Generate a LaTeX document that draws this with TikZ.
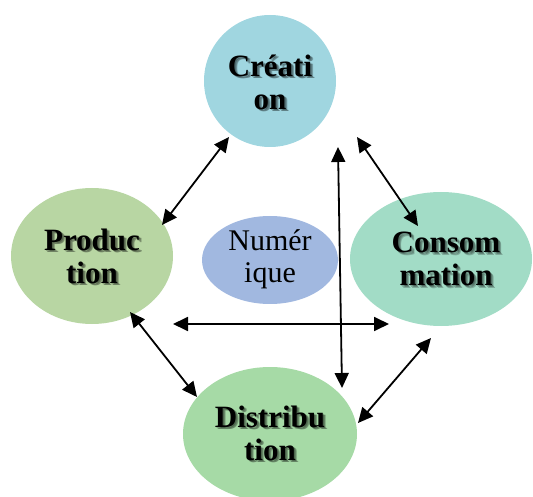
\documentclass[tikz,border=0pt]{standalone}
\usepackage{fontspec}
\setmainfont{Liberation Serif}
\usetikzlibrary{shapes.geometric,arrows.meta,calc}

\definecolor{creaC}{HTML}{A0D6E0}
\definecolor{prodC}{HTML}{B8D6A3}
\definecolor{consC}{HTML}{A2DCC6}
\definecolor{distC}{HTML}{A6DAA6}
\definecolor{numC}{HTML}{A1B8E0}

\tikzset{
  bubble/.style={ellipse, draw=none, inner sep=0pt, outer sep=0pt},
  lbltext/.style={align=center, inner sep=0pt,
    font=\fontsize{31}{33}\selectfont\bfseries},
  lblshadow/.style={lbltext, text=black, text opacity=0.22},
  plaintext/.style={align=center, inner sep=0pt,
    font=\fontsize{30}{32}\selectfont},
  link/.style={line width=1.8pt,
    {Triangle[length=15pt,width=14pt]}-{Triangle[length=15pt,width=14pt]}},
}

% bold caption with a soft drop shadow
\newcommand\shadowlabel[3]{%
  \foreach \dx/\dy in {1.2/-1.2,2.2/-2.2,3/-2.6}
    \node[lblshadow] at ($(#2)+(\dx,\dy)$) {#3};
  \node[lbltext] (#1) at (#2) {#3};}

\begin{document}
\begin{tikzpicture}[x=1pt,y=1pt]
\useasboundingbox (0,0) rectangle (533,496);

% bubbles
\node[bubble, fill=creaC, minimum width=132pt, minimum height=132pt] (crea) at (270,415) {};
\node[bubble, fill=prodC, minimum width=162pt, minimum height=136pt] (prod) at (92,240) {};
\node[bubble, fill=consC, minimum width=182pt, minimum height=134pt] (cons) at (441,237) {};
\node[bubble, fill=distC, minimum width=174pt, minimum height=134pt] (dist) at (270,62) {};
\node[bubble, fill=numC, minimum width=136pt, minimum height=88pt] (numq) at (270,236) {};

% captions
\coordinate (creaT) at (270,414);
\coordinate (prodT) at (92,240);
\coordinate (consT) at (446,237);
\coordinate (distT) at (270,63);
\shadowlabel{creaL}{creaT}{Créati\\on}
\shadowlabel{prodL}{prodT}{Produc\\tion}
\shadowlabel{consL}{consT}{Consom\\mation}
\shadowlabel{distL}{distT}{Distribu\\tion}
\node[plaintext] (numL) at (270,237) {Numér\\ique};

% double-headed links between the bubbles
\draw[link] ($(prod)+(70,31)$) -- ($(crea)+(-41,-56)$);
\draw[link] ($(crea)+(87,-56)$) -- ($(cons)+(-23,33)$);
\draw[link] ($(crea)+(68,-66)$) -- ($(dist)+(72,46)$);
\draw[link] ($(prod)+(81,-68)$) -- ($(cons)+(-52,-65)$);
\draw[link] ($(prod)+(38,-56)$) -- ($(dist)+(-73,37)$);
\draw[link] ($(dist)+(88,11)$) -- ($(cons)+(-10,-79)$);
\end{tikzpicture}
\end{document}
